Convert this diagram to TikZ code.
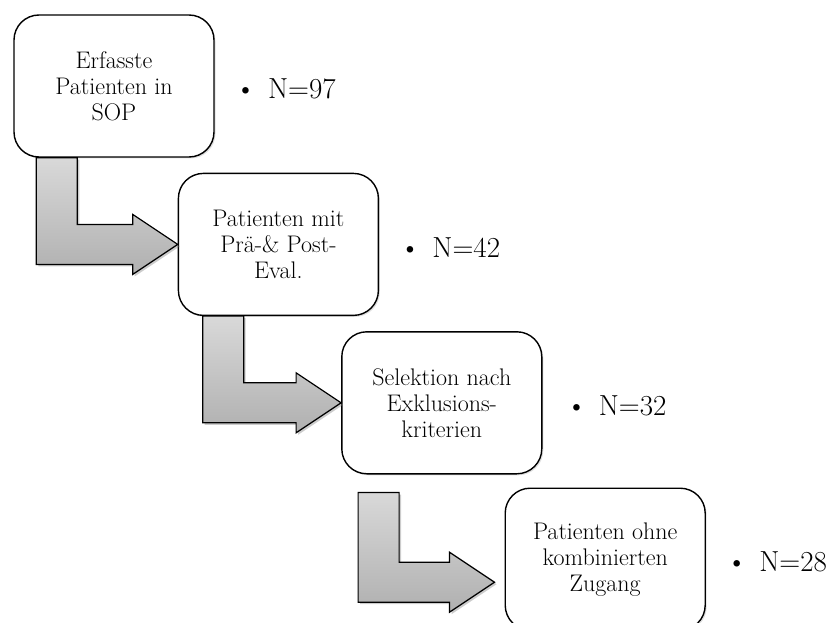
\documentclass[tikz,border=0pt]{standalone}
\usepackage{fontspec}
\usepackage{tikz}
\usetikzlibrary{positioning,calc,shadows}

\newcommand{\bentarrow}[2]{%
  \draw [bendarrow] (#1) -- ++(41,0) |- ($(#2)+(-45,-20)$) -- ++(0,-10) -- (#2)
    -- ++(-45,30) -- ++(0,-10) -| (#1) -- cycle;}

\begin{document}
\begin{tikzpicture}[x=1pt,y=-1pt,
    box/.style={draw,line width=1.4pt,fill=white,rounded corners=25pt,
      minimum width=200pt,minimum height=142pt,align=center,
      font=\fontsize{24pt}{26pt}\selectfont,
      drop shadow={opacity=0.25,shadow xshift=1.5pt,shadow yshift=-1.5pt}},
    count/.style={font=\fontsize{29pt}{32pt}\selectfont,yshift=-3pt},
    bendarrow/.style={draw,line width=1.2pt,top color=gray!30,bottom color=gray!62,
      drop shadow={opacity=0.4,shadow xshift=2pt,shadow yshift=-2pt}}]
    \useasboundingbox (0,0) rectangle (830,623);
    \node (sop) [box] at (114,86) {Erfasste\\Patienten in\\SOP};
    \node (eval) [box, below right=15pt and -37pt of sop] {Patienten mit\\Prä-\& Post-\\Eval.};
    \node (selekt) [box, below right=15pt and -38pt of eval] {Selektion nach\\Exklusions-\\kriterien};
    \node (ohne) [box, below right=13pt and -38pt of selekt] {Patienten ohne\\kombinierten\\Zugang};
    \node (n97) [count, right=17pt of sop] {\textbullet\hspace{12pt}N=97};
    \node (n42) [count, right=17pt of eval] {\textbullet\hspace{12pt}N=42};
    \node (n32) [count, right=20pt of selekt] {\textbullet\hspace{12pt}N=32};
    \node (n28) [count, right=17pt of ohne] {\textbullet\hspace{12pt}N=28};
    \coordinate (a1) at ($(sop.south west)+(23,0)$);
    \coordinate (a2) at ($(eval.south west)+(25,0)$);
    \coordinate (a3) at ($(selekt.south west)+(17,18)$);
    \coordinate (t3) at ($(ohne.west)+(-10,23)$);
    \bentarrow{a1}{eval.west}
    \bentarrow{a2}{selekt.west}
    \bentarrow{a3}{t3}
\end{tikzpicture}
\end{document}
